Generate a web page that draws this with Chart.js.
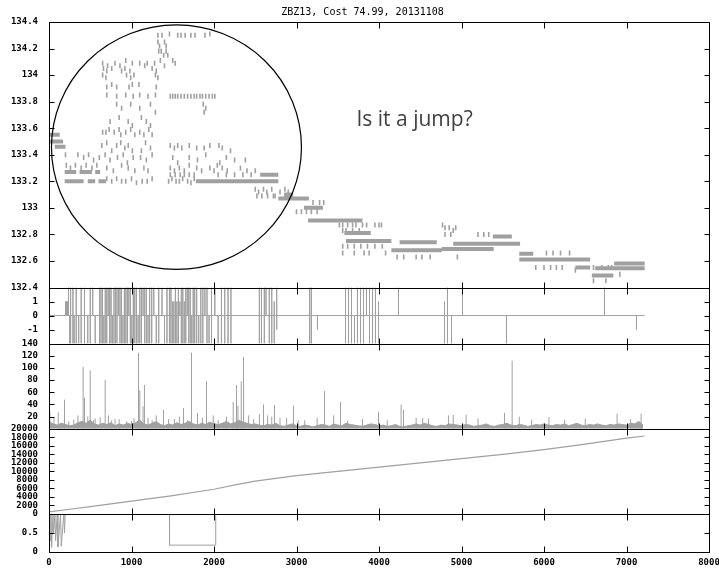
<!DOCTYPE html>
<html>
<head>
<meta charset="utf-8">
<title>ZBZ13, Cost 74.99, 20131108</title>
<script src="https://cdn.jsdelivr.net/npm/chart.js"></script>
<style>
  body { margin: 0; background: #fff; }
</style>
</head>
<body>
<canvas id="chart" width="719" height="570"></canvas>
<script>
const chartTitle = 'ZBZ13, Cost 74.99, 20131108';

// axis ticks
const timeTicks = [0, 1000, 2000, 3000, 4000, 5000, 6000, 7000, 8000];
const priceTicks = [132.4, 132.6, 132.8, 133, 133.2, 133.4, 133.6, 133.8, 134, 134.2, 134.4];
const flipTicks = [-1, 0, 1];
const volTicks = [20, 40, 60, 80, 100, 120, 140];
const cumTicks = [0, 2000, 4000, 6000, 8000, 10000, 12000, 14000, 16000, 18000, 20000];
const fracTicks = [0, 0.5];

// price panel: dense runs of trades at one price
const bandStart = [10, 10, 70, 190, 470, 600, 190, 370, 560, 1780, 2560, 2780, 2850, 3090, 3140, 3580, 3600, 4150, 4250, 4760, 4900, 5380, 5700, 5700, 6380, 6580, 6850, 6620];
const bandEnd   = [170, 130, 200, 420, 560, 690, 330, 520, 620, 2780, 2780, 3150, 2960, 3320, 3800, 3900, 4150, 4760, 4700, 5390, 5710, 5610, 5870, 6560, 6560, 6840, 7220, 7220];
const bandPrice = [133.50, 133.55, 133.46, 133.20, 133.20, 133.20, 133.27, 133.27, 133.27, 133.20, 133.25, 133.07, 133.10, 133.00, 132.905, 132.81, 132.75, 132.68, 132.74, 132.69, 132.73, 132.785, 132.655, 132.61, 132.55, 132.49, 132.58, 132.545];

// price panel: single trades, grouped by price level
const tradePrices = [134.31, 134.30, 134.25, 134.22, 134.18, 134.15, 134.11, 134.09, 134.07, 134.05, 134.03, 134.00, 133.98, 133.93, 133.91, 133.85, 133.84, 133.78, 133.75, 133.72, 133.68, 133.65, 133.62, 133.59, 133.57, 133.55, 133.49, 133.47, 133.45, 133.43, 133.40, 133.38, 133.36, 133.34, 133.32, 133.30, 133.28, 133.25, 133.22, 133.20, 133.19, 133.14, 133.12, 133.09, 133.04, 132.97, 132.87, 132.85, 132.83, 132.80, 132.71, 132.66, 132.63, 132.55, 132.53, 132.50, 132.45];
const tradeTimes = [
  [1460, 1950],
  [1320, 1370, 1560, 1600, 1650, 1720, 1770, 1890],
  [1320, 1400],
  [1340, 1420],
  [1330, 1360, 1420],
  [1390, 1440],
  [930, 1350, 1500],
  [650, 800, 1010, 1100, 1190, 1280, 1530],
  [710, 860, 1160, 1400],
  [660, 760, 920, 1250],
  [700, 880, 980, 1300],
  [650, 940, 1030, 1290],
  [690, 990, 1320],
  [760, 1010, 1090],
  [700, 820, 970, 1300],
  [700, 930, 1100, 1290],
  [820, 1020, 1200, 1470, 1500, 1530, 1560, 1600, 1640, 1680, 1720, 1760, 1790, 1830, 1860, 1900, 1940, 1980, 2010],
  [820, 990, 1230, 1870],
  [880, 1100, 1900],
  [1290, 1880],
  [850, 1120],
  [740, 960, 1180],
  [1010, 1230],
  [730, 850, 990, 1210],
  [650, 690, 790, 930, 1100],
  [870, 1040, 1150, 1250],
  [700, 870, 1170],
  [640, 820, 960, 1470, 1560, 1700, 1950, 2060],
  [920, 1230, 1520, 1610, 1790, 1880, 2100],
  [760, 1010, 1120, 2200],
  [200, 350, 480, 680, 900, 1250, 1900],
  [420, 610, 830, 1020, 1110, 1500, 1700, 2150],
  [540, 740, 1180, 1800, 2250, 2380],
  [950, 1560, 2070],
  [210, 320, 450, 580, 880, 1700, 2040],
  [260, 390, 520, 700, 960, 1150, 1470, 1580, 1790, 1950, 2100, 2320],
  [780, 1040, 1200, 1520, 1640, 1850, 2000, 2160, 2400, 2500],
  [1470, 1530, 1590, 1640, 1700, 1760, 2050, 2150, 2250, 2350, 2450],
  [700, 820, 1000, 1250, 1490, 1620, 1760],
  [760, 880, 930, 1130, 1190, 1450, 1540, 1580, 1680],
  [1060, 1720],
  [2500, 2600, 2700, 2860],
  [2540, 2640, 2800, 2900],
  [2520, 2580, 2650, 2720, 2740],
  [3200, 3280, 3330],
  [3000, 3060, 3120, 3180, 3250],
  [3520, 3560, 3620, 3680, 3720, 3800, 3850, 3950, 4000, 4030, 4770],
  [4800, 4850, 4930],
  [3560, 3600, 3680, 3760, 4900],
  [4800, 4870, 5200, 5270, 5330],
  [3560, 3620, 3700, 3780, 3860, 3950, 4040],
  [3560, 3700, 3820, 3880, 4080, 6030, 6110, 6200, 6310],
  [4220, 4300, 4450, 4520, 4620, 4950],
  [5900, 6000, 6080, 6150, 6220, 6600, 6700, 6780, 6820],
  [6380],
  [6920],
  [6600, 6750]
];

// direction panel: spikes (up value, down value)
const flipX  = [200, 212, 224, 236, 250, 262, 290, 305, 330, 360, 390, 430, 470, 500, 530, 560, 612, 630, 648, 665, 682, 700, 718, 735, 752, 770, 788, 806, 824, 842, 860, 878, 896, 914, 932, 950, 968, 986, 1004, 1022, 1040, 1060, 1080, 1100, 1120, 1140, 1160, 1180, 1200, 1220, 1245, 1270, 1300, 1330, 1370, 1400, 1430, 1460, 1478, 1496, 1514, 1532, 1550, 1568, 1586, 1604, 1622, 1640, 1658, 1676, 1694, 1712, 1730, 1748, 1766, 1790, 1815, 1840, 1865, 1890, 1915, 1940, 1970, 2010, 2050, 2090, 2130, 2170, 2205, 2550, 2575, 2610, 2630, 2670, 2700, 2730, 2760, 3160, 3180, 3254, 3594, 3630, 3667, 3703, 3739, 3776, 3812, 3848, 3885, 3921, 3957, 3994, 4236, 4794, 4830, 4879, 5012, 5545, 6733, 7121];
const flipHi = [1, 1, 1, 2, 0, 2, 2, 0, 2, 0, 2, 2, 0, 2, 2, 0, 2, 2, 2, 0, 2, 2, 2, 2, 2, 0, 2, 2, 2, 2, 2, 2, 0, 2, 2, 2, 2, 2, 0, 2, 2, 2, 0, 2, 2, 2, 2, 2, 0, 2, 2, 2, 0, 2, 2, 0, 2, 2, 2, 1, 1, 2, 1, 2, 1, 2, 2, 1, 2, 2, 2, 2, 0, 2, 2, 2, 0, 2, 2, 2, 2, 0, 2, 2, 0, 2, 2, 2, 2, 2, 2, 2, 2, 2, 2, 1, 2, 2, 2, 0, 2, 2, 2, 0, 2, 2, 2, 2, 2, 2, 2, 1, 2, 1, 2, 0, 2, 0, 2, 0];
const flipLo = [0, 0, 0, 0, -2, -2, -2, -2, -2, -2, -2, -2, -2, -2, 0, -2, -2, -2, -2, -2, -2, -2, 0, -2, -2, -2, -2, -2, -2, 0, -2, -2, -2, -2, -2, -2, 0, -2, -2, -2, -2, -2, -2, -2, -2, 0, -2, -2, -2, -2, -2, 0, -2, -2, 0, -2, -2, -2, -2, -2, -2, -2, -2, -2, 0, -2, -2, -2, -2, 0, -2, -2, -2, -2, -2, -2, -2, -2, -2, 0, -2, -2, -2, 0, -2, -2, -2, -2, -2, -2, -2, -2, 0, -2, -2, -2, -1, -2, -2, -1, -2, -2, -2, -2, -2, -2, -2, 0, -2, -2, -2, -2, 0, -2, -2, -2, 0, -2, 0, -1];
const lastTime = 7220;

// volume panel: background level every 50 trades, then the spikes
const grassStep = 50;
const grassVals = [12, 8, 6, 9, 7, 5, 6, 10, 12, 9, 14, 8, 6, 9, 7, 10, 5, 8, 6, 9, 7,
  10, 14, 8, 6, 9, 12, 7, 5, 8, 6, 10, 7, 9, 12, 8, 6, 9, 7, 11, 8,
  7, 9, 12, 8, 10, 14, 11, 9, 7, 8, 6, 5, 7, 6, 9, 5, 4, 6, 8, 5,
  4, 6, 5, 3, 5, 7, 6, 4, 8, 6, 5, 9, 7, 6, 5, 4, 6, 8, 7, 5,
  6, 4, 5, 7, 4, 3, 5, 6, 8, 6, 9, 7, 5, 4, 6, 5, 8, 7, 6, 5,
  7, 6, 4, 5, 6, 8, 5, 4, 6, 7, 9, 6, 5, 7, 6, 4, 5, 7, 6, 8,
  6, 5, 7, 6, 8, 5, 7, 9, 6, 5, 7, 6, 8, 6, 5, 7, 6, 8, 7, 6, 9, 8, 12, 6];
const volSpikeX = [10, 60, 112, 188, 240, 300, 350, 414, 430, 470, 499, 540, 560, 620, 681, 720, 760, 800, 850, 940, 1000, 1030, 1085, 1100, 1140, 1157, 1200, 1250, 1300, 1388, 1450, 1520, 1580, 1630, 1680, 1727, 1800, 1860, 1909, 1990, 2050, 2150, 2233, 2273, 2290, 2330, 2358, 2420, 2480, 2550, 2600, 2650, 2700, 2733, 2800, 2880, 2964, 3020, 3100, 3250, 3340, 3450, 3533, 3620, 3800, 3994, 4100, 4268, 4297, 4450, 4530, 4600, 4842, 4900, 5056, 5200, 5521, 5614, 5700, 5850, 6060, 6250, 6500, 6886, 7050, 7177];
const volSpikeV = [28, 18, 27, 48, 12, 15, 22, 102, 51, 20, 96, 14, 17, 19, 80, 22, 14, 16, 16, 12, 13, 17, 125, 63, 37, 72, 18, 14, 22, 31, 16, 16, 20, 34, 14, 125, 26, 18, 78, 22, 14, 20, 44, 72, 38, 78, 118, 22, 16, 24, 40, 22, 20, 39, 18, 18, 38, 14, 14, 18, 62, 22, 44, 13, 16, 28, 14, 40, 31, 18, 18, 17, 22, 23, 23, 17, 26, 112, 20, 15, 19, 15, 17, 25, 16, 25];

// cumulative count panel
const cumTimes  = [0, 250, 500, 750, 1000, 1500, 2000, 2300, 2500, 3000, 3500, 4000, 4500, 5000, 5500, 6000, 6500, 7000, 7220];
const cumCounts = [500, 1100, 1700, 2350, 3000, 4300, 5800, 7000, 7700, 9000, 10000, 11000, 12000, 13000, 14000, 15100, 16400, 17800, 18300];

// bottom panel
const fracTimes = [0, 8, 16, 24, 32, 48, 56, 72, 80, 100, 108, 140, 148, 180, 188, 196, 1460, 1461, 2020, 2021, 7220];
const fracVals  = [0.15, 1, 0.3, 1, 0.12, 1, 0.5, 1, 0.3, 1, 0.13, 1, 0.15, 1, 0.5, 1, 1, 0.18, 0.18, 1, 1];

// annotation
const ringTime = 1545, ringPrice = 133.457, ringTimeRadius = 1515, ringPriceRadius = 0.921;
const noteText = 'Is it a jump?';
const noteTime = 3727, notePrice = 133.615;

const gray = '#a0a0a0';
const tickFont = { family: 'DejaVu Sans Mono', size: 9, weight: 'bold' };

const bandData = [];
bandStart.forEach((x0, i) => {
    bandData.push({ x: x0, y: bandPrice[i] }, { x: bandEnd[i], y: bandPrice[i] }, { x: bandEnd[i], y: null });
});

const tradeData = [];
tradePrices.forEach((p, i) => {
    tradeTimes[i].forEach(t => tradeData.push({ x: t, y: p }));
});

const flipData = [{ x: 0, y: 0 }];
flipX.forEach((x, i) => {
    flipData.push({ x, y: 0 }, { x, y: flipHi[i] }, { x, y: flipLo[i] }, { x, y: 0 });
});
flipData.push({ x: lastTime, y: 0 });

const grassData = grassVals.map((v, i) => ({ x: i * grassStep, y: v }));
const spikeData = [];
volSpikeX.forEach((x, i) => {
    spikeData.push({ x, y: 0 }, { x, y: volSpikeV[i] }, { x, y: null });
});

const cumData = cumTimes.map((t, i) => ({ x: t, y: cumCounts[i] }));
const fracData = fracTimes.map((t, i) => ({ x: t, y: fracVals[i] }));

const panelTicks = { yPrice: priceTicks, yFlip: flipTicks, yVol: volTicks, yCum: cumTicks, yFrac: fracTicks };

function panelScale(min, max, height, order, ticks, fmt) {
    return {
        type: 'linear',
        position: 'left',
        stack: 'panels',
        stackWeight: height,
        weight: order,
        min: min,
        max: max,
        grid: { display: false, drawTicks: false },
        border: { display: false },
        afterBuildTicks: s => { s.ticks = ticks.map(v => ({ value: v })); },
        afterFit: s => { s.width = 49; s.paddingTop = 0; s.paddingBottom = 0; },
        ticks: { autoSkip: false, padding: 11, color: '#000', font: tickFont, callback: fmt }
    };
}

const gnuplotFrame = {
    id: 'gnuplotFrame',
    afterDatasetsDraw(chart) {
        const ctx = chart.ctx;
        const xs = chart.scales.x;
        const l = Math.round(xs.left) + 0.5, r = Math.round(xs.right) + 0.5;
        ctx.save();
        ctx.strokeStyle = '#000';
        ctx.lineWidth = 1;
        ctx.beginPath();
        Object.keys(panelTicks).forEach(id => {
            const s = chart.scales[id];
            const top = Math.round(s.top) + 0.5, bot = Math.round(s.bottom) + 0.5;
            ctx.rect(l, top, r - l, bot - top);
            panelTicks[id].forEach(v => {
                const y = Math.round(s.getPixelForValue(v)) + 0.5;
                ctx.moveTo(l, y); ctx.lineTo(l + 5, y);
                ctx.moveTo(r, y); ctx.lineTo(r - 5, y);
            });
            timeTicks.forEach(v => {
                const x = Math.round(xs.getPixelForValue(v)) + 0.5;
                ctx.moveTo(x, top); ctx.lineTo(x, top + 6);
                ctx.moveTo(x, bot); ctx.lineTo(x, bot - 6);
            });
        });
        ctx.stroke();

        const ys = chart.scales.yPrice;
        const cx = xs.getPixelForValue(ringTime), cy = ys.getPixelForValue(ringPrice);
        const rx = xs.getPixelForValue(ringTime + ringTimeRadius) - cx;
        const ry = cy - ys.getPixelForValue(ringPrice + ringPriceRadius);
        ctx.beginPath();
        ctx.ellipse(cx, cy, rx, ry, 0, 0, Math.PI * 2);
        ctx.lineWidth = 1.2;
        ctx.stroke();

        ctx.font = '21px "Open Sans"';
        ctx.fillStyle = '#404040';
        ctx.textBaseline = 'alphabetic';
        ctx.fillText(noteText, xs.getPixelForValue(noteTime), ys.getPixelForValue(notePrice));

        // title, centred a little right of the canvas middle like the original
        ctx.font = '10px "DejaVu Sans Mono"';
        ctx.fillStyle = '#000';
        ctx.textAlign = 'center';
        ctx.textBaseline = 'middle';
        ctx.fillText(chartTitle, chart.width / 2 + 3, 12);
        ctx.restore();
    }
};

const ctx = document.getElementById('chart').getContext('2d');

new Chart(ctx, {
    type: 'line',
    data: {
        datasets: [
            { data: bandData, yAxisID: 'yPrice', borderColor: gray, borderWidth: 4, borderCapStyle: 'butt', pointRadius: 0, spanGaps: false },
            { data: tradeData, yAxisID: 'yPrice', showLine: false, pointStyle: 'line', pointRotation: 90, pointRadius: 2.5, pointBorderWidth: 1.6, pointBorderColor: gray },
            { data: flipData, yAxisID: 'yFlip', borderColor: gray, borderWidth: 1, pointRadius: 0 },
            { data: grassData, yAxisID: 'yVol', borderColor: gray, backgroundColor: gray, borderWidth: 1, pointRadius: 0, fill: 'origin' },
            { data: spikeData, yAxisID: 'yVol', borderColor: gray, borderWidth: 1, pointRadius: 0, spanGaps: false },
            { data: cumData, yAxisID: 'yCum', borderColor: gray, borderWidth: 1.2, pointRadius: 0 },
            { data: fracData, yAxisID: 'yFrac', borderColor: gray, borderWidth: 1, pointRadius: 0 }
        ]
    },
    options: {
        responsive: false,
        animation: false,
        devicePixelRatio: 1,
        events: [],
        layout: { padding: { left: 0, right: 10, top: 22, bottom: 0 } },
        plugins: {
            legend: { display: false },
            tooltip: { enabled: false },
            title: { display: false }
        },
        scales: {
            x: {
                type: 'linear',
                min: 0,
                max: 8000,
                grid: { display: false, drawTicks: false },
                border: { display: false },
                afterBuildTicks: s => { s.ticks = timeTicks.map(v => ({ value: v })); },
                afterFit: s => { s.height = 18; s.paddingLeft = 0; s.paddingRight = 0; },
                ticks: { autoSkip: false, maxRotation: 0, padding: 5, color: '#000', font: tickFont, callback: v => String(v) }
            },
            yPrice: panelScale(132.4, 134.4, 265, 5, priceTicks, v => String(+v.toFixed(1))),
            yFlip: panelScale(-2, 2, 56, 4, flipTicks, v => String(v)),
            yVol: panelScale(0, 140, 85, 3, volTicks, v => String(v)),
            yCum: panelScale(0, 20000, 85, 2, cumTicks, v => String(v)),
            yFrac: panelScale(0, 1, 38, 1, fracTicks, v => String(v))
        }
    },
    plugins: [gnuplotFrame]
});
</script>
</body>
</html>
